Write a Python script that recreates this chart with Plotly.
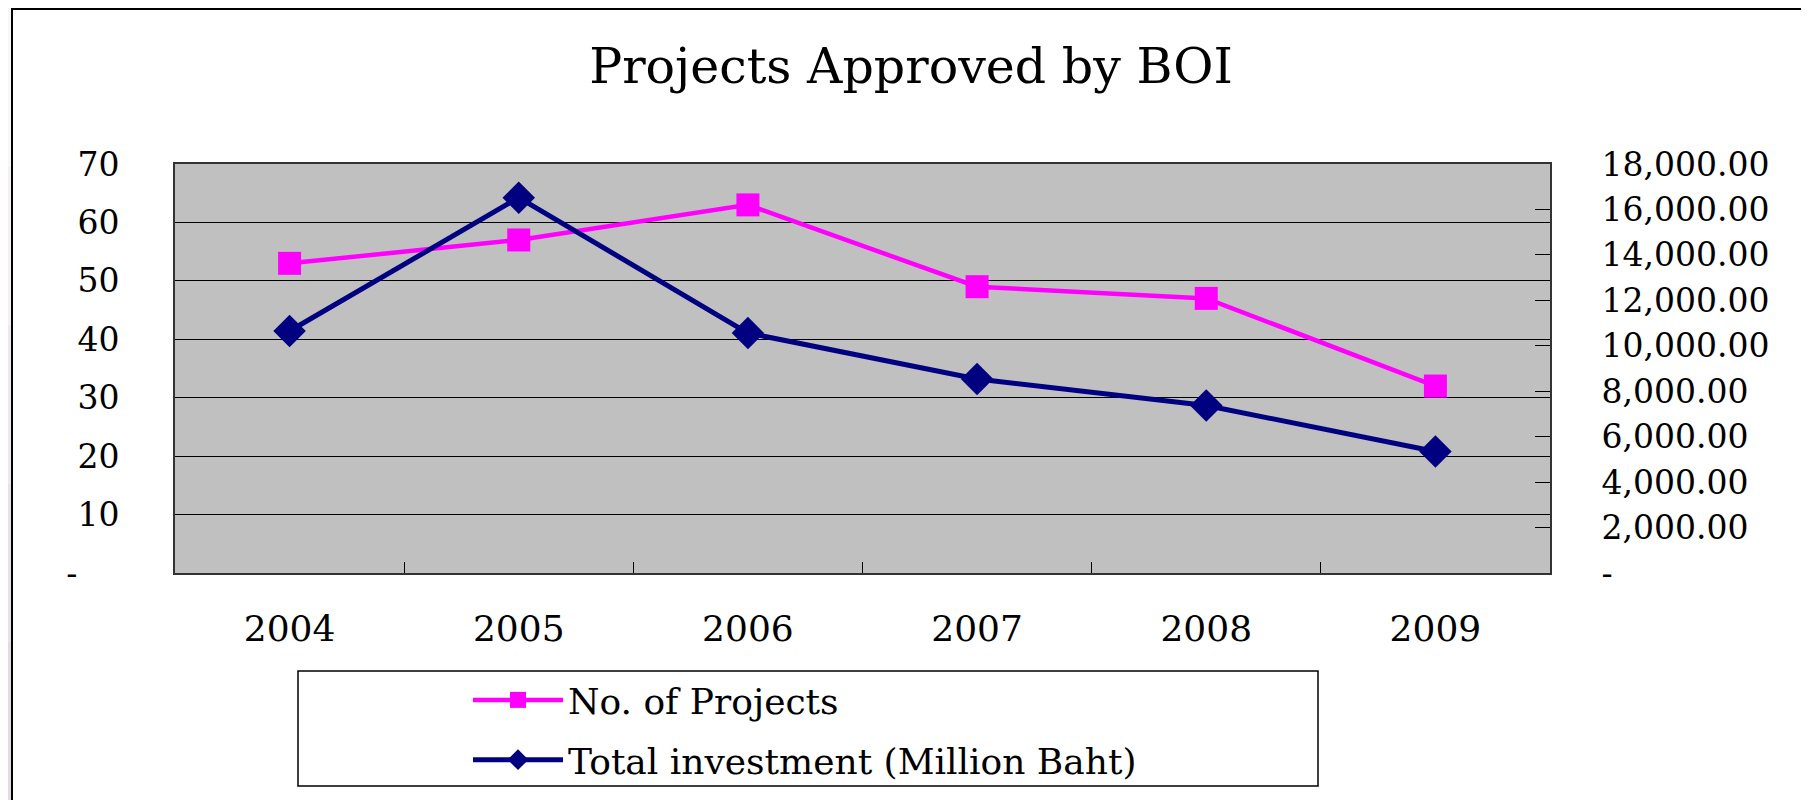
import plotly.graph_objects as go

# ---- data ----
years = ["2004", "2005", "2006", "2007", "2008", "2009"]
num_projects = [53, 57, 63, 49, 47, 32]
total_investment = [10650, 16520, 10560, 8540, 7370, 5350]

left_tickvals = [0, 10, 20, 30, 40, 50, 60, 70]
left_ticktext = ["-\u00a0\u00a0\u00a0\u00a0", "10", "20", "30", "40", "50", "60", "70"]
right_tickvals = [0, 2000, 4000, 6000, 8000, 10000, 12000, 14000, 16000, 18000]
right_ticktext = ["-", "2,000.00", "4,000.00", "6,000.00", "8,000.00", "10,000.00",
                  "12,000.00", "14,000.00", "16,000.00", "18,000.00"]

# page is drawn with an 8px body margin; work in page pixels and convert
O = 8
W, H = 1809 - O, 800 - O
PL, PR, PT, PB = 175 - O, 1550 - O, 164 - O, 573 - O  # plot area (figure pixels)
FONT = "DejaVu Serif"


def px_x(p):  # page pixel -> paper
    return (p - O - PL) / (PR - PL)


def px_y(p):
    return (PB - (p - O)) / (PB - PT)


fig = go.Figure()
fig.add_trace(go.Scatter(
    x=years, y=num_projects, name="No. of Projects", mode="lines+markers",
    line=dict(color="#FF00FF", width=4.5),
    marker=dict(symbol="square", size=23, color="#FF00FF"),
    legendgroup="a", yaxis="y"))
fig.add_trace(go.Scatter(
    x=years, y=total_investment, name="Total investment (Million Baht)", mode="lines+markers",
    line=dict(color="#000080", width=5),
    marker=dict(symbol="diamond", size=25, color="#000080"),
    legendgroup="b", yaxis="y2"))

shapes = []
# left slide strip
strip_cols = ["#f8f6f8", "#f3eff3", "#eee8ee", "#e8e1e8", "#e2d9e2"]
for i, c in enumerate(strip_cols):
    shapes.append(dict(type="rect", xref="paper", yref="paper",
                       x0=px_x(O), x1=px_x(11),
                       y0=px_y(O + i * H / len(strip_cols)), y1=px_y(O + (i + 1) * H / len(strip_cols)),
                       fillcolor=c, line=dict(width=0), layer="below"))
# chart frame (left and top lines)
shapes.append(dict(type="line", xref="paper", yref="paper",
                   x0=px_x(12), x1=px_x(12), y0=px_y(O), y1=px_y(800),
                   line=dict(color="#000000", width=2)))
shapes.append(dict(type="line", xref="paper", yref="paper",
                   x0=px_x(11), x1=px_x(1809), y0=px_y(O + 1), y1=px_y(O + 1),
                   line=dict(color="#000000", width=2)))
# legend box
shapes.append(dict(type="rect", xref="paper", yref="paper",
                   x0=px_x(298), x1=px_x(1318), y0=px_y(671), y1=px_y(786),
                   line=dict(color="#000000", width=1.5), fillcolor="rgba(0,0,0,0)"))

fig.update_layout(
    width=W, height=H,
    margin=dict(l=PL, r=W - PR, t=PT, b=H - PB, autoexpand=False),
    paper_bgcolor="#ffffff",
    plot_bgcolor="#c0c0c0",
    font=dict(family=FONT, color="#000000", size=33),
    title=dict(text="Projects Approved by BOI", font=dict(family=FONT, size=49, color="#000000"),
               xref="container", yref="container", x=(911 - O) / W, xanchor="center",
               y=1 - (66 - O) / H, yanchor="middle"),
    xaxis=dict(type="category", tickson="boundaries", ticks="inside", ticklen=11,
               tickcolor="#000000", tickwidth=1,
               showline=True, linecolor="#333333", linewidth=2, mirror=True,
               showgrid=False, tickfont=dict(size=36), ticklabelstandoff=23,
               range=[-0.5, 5.5]),
    yaxis=dict(range=[0, 70], tickvals=left_tickvals, ticktext=left_ticktext,
               ticks="inside", ticklen=15, tickcolor="#000000",
               showline=True, linecolor="#333333", linewidth=2,
               showgrid=True, gridcolor="#000000", gridwidth=1, zeroline=False,
               tickfont=dict(size=33), ticklabelstandoff=47),
    yaxis2=dict(range=[0, 18000], tickvals=right_tickvals, ticktext=right_ticktext,
                overlaying="y", side="right",
                ticks="inside", ticklen=15, tickcolor="#000000",
                showline=True, linecolor="#333333", linewidth=2,
                showgrid=False, zeroline=False,
                tickfont=dict(size=33), ticklabelstandoff=43),
    legend=dict(x=px_x(468), xanchor="left", y=px_y(670), yanchor="top",
                bgcolor="rgba(0,0,0,0)", borderwidth=0,
                font=dict(family=FONT, size=36, color="#000000"),
                itemwidth=90, traceorder="grouped", tracegroupgap=10),
    shapes=shapes,
    showlegend=True,
)

fig.write_html("out.html")
